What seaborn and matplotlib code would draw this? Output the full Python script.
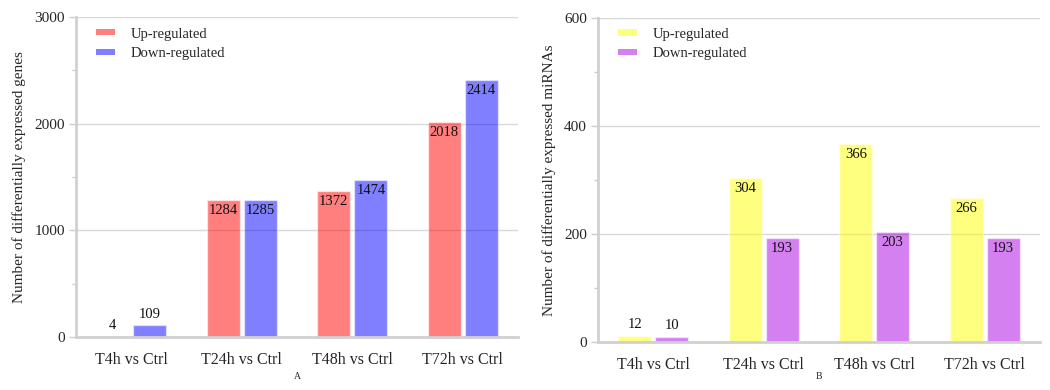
import matplotlib
matplotlib.use("Agg")
import matplotlib.pyplot as plt
from matplotlib.patches import Patch
from matplotlib.ticker import MultipleLocator
import pandas as pd
import seaborn as sns

comparisons = ["T4h vs Ctrl", "T24h vs Ctrl", "T48h vs Ctrl", "T72h vs Ctrl"]
directions = ["Up-regulated", "Down-regulated"]

genes_up = [4, 1284, 1372, 2018]
genes_down = [109, 1285, 1474, 2414]
mirna_up = [12, 304, 366, 266]
mirna_down = [10, 193, 203, 193]

gene_colors = ["#FF0000", "#0000FF"]
mirna_colors = ["#FFFF00", "#AB02E2"]

sns.set_theme(style="white")
plt.rcParams["font.family"] = ["Liberation Serif", "DejaVu Serif"]


def long_table(up, down):
    rows = []
    for c, u, d in zip(comparisons, up, down):
        rows.append({"comparison": c, "direction": directions[0], "count": u})
        rows.append({"comparison": c, "direction": directions[1], "count": d})
    return pd.DataFrame(rows)


def draw_panel(ax, up, down, colors, ymax, major, minor, ylabel, caption):
    df = long_table(up, down)
    sns.barplot(data=df, x="comparison", y="count", hue="direction",
                order=comparisons, hue_order=directions,
                palette=colors, saturation=1, alpha=0.5, width=0.67, gap=0.1,
                edgecolor="white", linewidth=1, errorbar=None,
                legend=False, ax=ax)
    ax.set_xlim(-0.5, 3.5)
    ax.set_ylim(0, ymax)
    ax.yaxis.set_major_locator(MultipleLocator(major))
    ax.yaxis.set_minor_locator(MultipleLocator(minor))
    ax.set_axisbelow(True)
    ax.grid(axis="y", which="major", color="#d8d8d8", linewidth=1)
    ax.grid(axis="x", visible=False)
    for side in ("top", "right"):
        ax.spines[side].set_visible(False)
    for side in ("left", "bottom"):
        ax.spines[side].set_color("#d0d0d0")
        ax.spines[side].set_linewidth(2)
    ax.tick_params(axis="y", which="major", length=5, width=1, color="#cccccc",
                   labelsize=11, pad=3, left=True)
    ax.tick_params(axis="y", which="minor", length=3, width=1, color="#cccccc", left=True)
    ax.tick_params(axis="x", length=0, labelsize=11.5, pad=11)
    ax.set_xlabel("")
    ax.set_ylabel(ylabel, fontsize=11, labelpad=6)

    for container, vals in zip(ax.containers, (up, down)):
        for bar, v in zip(container, vals):
            cx = bar.get_x() + bar.get_width() / 2
            if v / ymax > 0.1:
                ax.annotate(f"{v}", (cx, v), xytext=(0, -3), textcoords="offset points",
                            ha="center", va="top", fontsize=10.5, color="#111111")
            else:
                ax.annotate(f"{v}", (cx, v), xytext=(0, 3), textcoords="offset points",
                            ha="center", va="bottom", fontsize=10.5, color="#111111")

    handles = [Patch(facecolor=c, alpha=0.5, edgecolor="none") for c in colors]
    ax.legend(handles, directions, loc="upper left", bbox_to_anchor=(0.025, 0.995),
              frameon=False, fontsize=10.5, handlelength=1.3, handleheight=0.3,
              handletextpad=1.1, labelspacing=0.45, borderaxespad=0.2)

    pos = ax.get_position()
    ax.figure.text((pos.x0 + pos.x1) / 2, 0.022, caption, ha="center", va="bottom", fontsize=7)


fig = plt.figure(figsize=(10.5, 3.9), dpi=100)
ax_a = fig.add_axes([0.0724, 0.136, 0.421, 0.82])
ax_b = fig.add_axes([0.5695, 0.123, 0.421, 0.832])

draw_panel(ax_a, genes_up, genes_down, gene_colors, 3000, 1000, 500,
           "Number of differentially expressed genes", "A")
draw_panel(ax_b, mirna_up, mirna_down, mirna_colors, 600, 200, 100,
           "Number of differentially expressed miRNAs", "B")

fig.savefig("out.png", dpi=100)
